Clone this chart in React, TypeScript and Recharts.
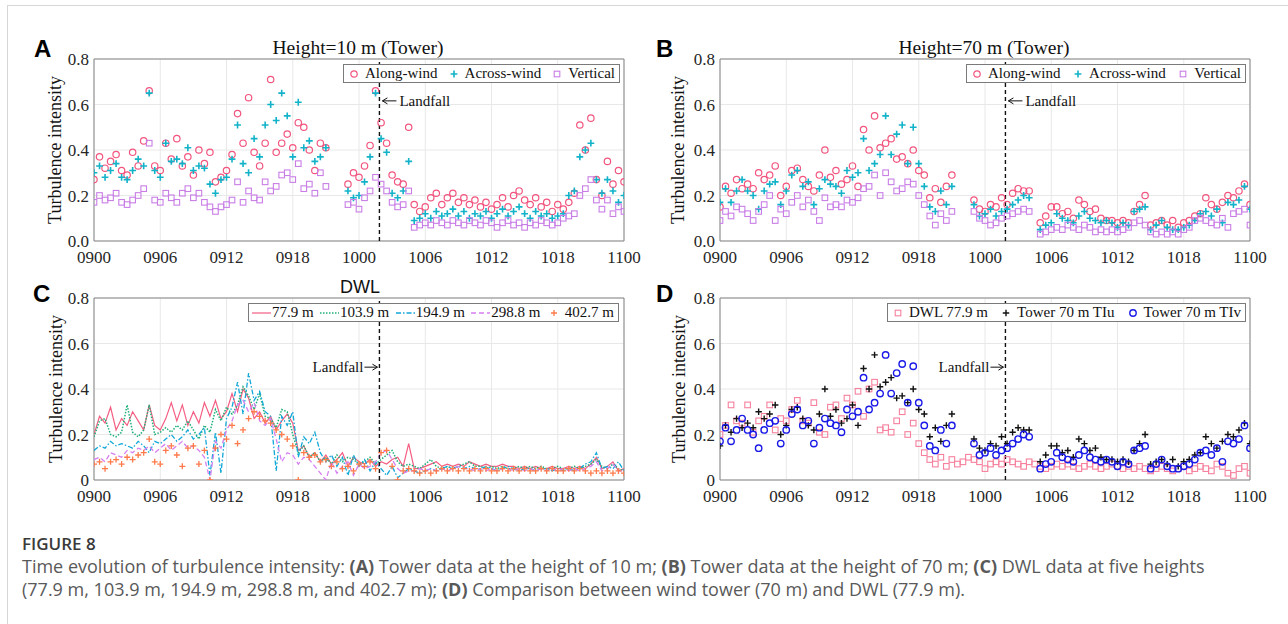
import React from 'react';
import { ComposedChart, Line, XAxis, YAxis, CartesianGrid, ReferenceLine, ReferenceArea } from 'recharts';

// time axis: hours after 09 00:00, sampled every half hour
const HOURS = [
  0, 0.5, 1, 1.5, 2, 2.5, 3, 3.5, 4, 4.5,
  5, 5.5, 6, 6.5, 7, 7.5, 8, 8.5, 9, 9.5,
  10, 10.5, 11, 11.5, 12, 12.5, 13, 13.5, 14, 14.5,
  15, 15.5, 16, 16.5, 17, 17.5, 18, 18.5, 19, 19.5,
  20, 20.5, 21, 21.5, 22, 22.5, 23, 23.5, 24, 24.5,
  25, 25.5, 26, 26.5, 27, 27.5, 28, 28.5, 29, 29.5,
  30, 30.5, 31, 31.5, 32, 32.5, 33, 33.5, 34, 34.5,
  35, 35.5, 36, 36.5, 37, 37.5, 38, 38.5, 39, 39.5,
  40, 40.5, 41, 41.5, 42, 42.5, 43, 43.5, 44, 44.5,
  45, 45.5, 46, 46.5, 47, 47.5, 48,
];
const X_TICKS = [0, 6, 12, 18, 24, 30, 36, 42, 48];
const X_LABELS = ['0900', '0906', '0912', '0918', '1000', '1006', '1012', '1018', '1100'];
const Y_TICKS = [0, 0.2, 0.4, 0.6, 0.8];
const LANDFALL = 25.85;

// (A) tower 10 m
const T10_ALONG = [
  0.27, 0.37, 0.32, 0.35, 0.38, 0.31, 0.29, 0.39, 0.33, 0.44,
  0.66, 0.33, 0.31, 0.43, 0.36, 0.45, 0.33, 0.37, 0.29, 0.40,
  0.34, 0.39, 0.26, 0.28, 0.31, 0.38, 0.56, 0.43, 0.63, 0.39,
  0.33, 0.43, 0.71, 0.39, 0.43, 0.47, 0.41, 0.52, 0.50, 0.40,
  0.31, 0.43, 0.41, null, null, null, 0.25, 0.30, 0.28, 0.33,
  0.42, 0.66, 0.52, 0.43, 0.29, 0.26, 0.25, 0.50, 0.16, 0.13,
  0.15, 0.19, 0.21, 0.16, 0.19, 0.21, 0.17, 0.19, 0.16, 0.18,
  0.15, 0.17, 0.14, 0.16, 0.19, 0.15, 0.20, 0.22, 0.18, 0.16,
  0.19, 0.15, 0.17, 0.13, 0.16, 0.14, 0.17, 0.21, 0.51, 0.40,
  0.54, 0.27, 0.20, 0.35, 0.25, 0.31, 0.26,
];
const T10_ACROSS = [
  0.30, 0.33, 0.28, 0.31, 0.34, 0.28, 0.27, 0.31, 0.36, 0.33,
  0.65, 0.31, 0.28, 0.43, 0.35, 0.36, 0.34, 0.41, 0.31, 0.33,
  0.32, 0.25, 0.21, 0.27, 0.28, 0.36, 0.51, 0.34, 0.30, 0.45,
  0.37, 0.51, 0.60, 0.53, 0.65, 0.55, 0.37, 0.61, 0.41, 0.44,
  0.35, 0.37, 0.41, null, null, null, 0.22, 0.19, 0.20, 0.26,
  0.37, 0.65, 0.45, 0.39, 0.21, 0.19, 0.22, 0.35, 0.09, 0.10,
  0.12, 0.10, 0.13, 0.11, 0.12, 0.14, 0.11, 0.13, 0.10, 0.12,
  0.11, 0.13, 0.10, 0.12, 0.14, 0.11, 0.13, 0.15, 0.12, 0.10,
  0.13, 0.11, 0.12, 0.10, 0.11, 0.12, 0.20, 0.22, 0.37, 0.40,
  0.43, 0.27, 0.21, 0.27, 0.22, 0.17, 0.20,
];
const T10_VERT = [
  0.17, 0.20, 0.18, 0.19, 0.21, 0.17, 0.16, 0.18, 0.20, 0.23,
  0.43, 0.18, 0.17, 0.21, 0.19, 0.17, 0.21, 0.23, 0.19, 0.21,
  0.17, 0.15, 0.13, 0.15, 0.16, 0.18, 0.26, 0.17, 0.22, 0.19,
  0.18, 0.26, 0.22, 0.24, 0.29, 0.30, 0.27, 0.34, 0.23, 0.25,
  0.21, 0.30, 0.24, null, null, null, 0.16, 0.17, 0.14, 0.19,
  0.22, 0.28, 0.25, 0.22, 0.17, 0.15, 0.16, 0.22, 0.06, 0.07,
  0.08, 0.07, 0.09, 0.08, 0.07, 0.09, 0.08, 0.07, 0.09, 0.08,
  0.07, 0.09, 0.08, 0.06, 0.08, 0.09, 0.07, 0.08, 0.06, 0.08,
  0.07, 0.09, 0.08, 0.07, 0.08, 0.10, 0.11, 0.12, 0.20, 0.23,
  0.27, 0.18, 0.14, 0.18, 0.12, 0.15, 0.13,
];

// (B) tower 70 m
const T70_ALONG = [
  0.15, 0.24, 0.21, 0.27, 0.23, 0.25, 0.23, 0.30, 0.27, 0.29,
  0.33, 0.20, 0.24, 0.31, 0.32, 0.27, 0.24, 0.22, 0.29, 0.40,
  0.28, 0.31, 0.25, 0.27, 0.33, 0.24, 0.49, 0.40, 0.55, 0.41,
  0.43, 0.45, 0.36, 0.37, 0.34, 0.40, 0.31, 0.29, 0.19, 0.23,
  0.17, 0.24, 0.29, null, null, null, 0.18, 0.14, 0.13, 0.16,
  0.15, 0.19, 0.16, 0.21, 0.23, 0.22, 0.22, null, 0.08, 0.11,
  0.15, 0.15, 0.12, 0.13, 0.10, 0.18, 0.16, 0.13, 0.14, 0.10,
  0.09, 0.09, 0.08, 0.09, 0.08, 0.13, 0.16, 0.20, 0.07, 0.08,
  0.09, 0.07, 0.09, 0.06, 0.08, 0.09, 0.11, 0.12, 0.19, 0.16,
  0.14, 0.17, 0.20, 0.19, 0.22, 0.25, 0.16,
];
const T70_ACROSS = [
  0.17, 0.23, 0.17, 0.22, 0.27, 0.22, 0.20, 0.14, 0.22, 0.25,
  0.26, 0.16, 0.22, 0.29, 0.31, 0.24, 0.26, 0.16, 0.23, 0.27,
  0.25, 0.24, 0.21, 0.31, 0.28, 0.30, 0.45, 0.31, 0.34, 0.38,
  0.55, 0.38, 0.47, 0.51, 0.34, 0.50, 0.34, 0.24, 0.15, 0.13,
  0.22, 0.16, 0.24, null, null, null, 0.16, 0.11, 0.12, 0.14,
  0.11, 0.13, 0.14, 0.16, 0.18, 0.20, 0.19, null, 0.05, 0.07,
  0.08, 0.12, 0.10, 0.09, 0.08, 0.11, 0.13, 0.10, 0.09, 0.08,
  0.09, 0.08, 0.06, 0.08, 0.07, 0.13, 0.14, 0.15, 0.05, 0.07,
  0.09, 0.06, 0.05, 0.05, 0.06, 0.07, 0.09, 0.12, 0.13, 0.11,
  0.14, 0.08, 0.17, 0.16, 0.18, 0.24, 0.14,
];
const T70_VERT = [
  0.09, 0.13, 0.11, 0.15, 0.14, 0.12, 0.09, 0.13, 0.16, 0.20,
  0.09, 0.14, 0.12, 0.17, 0.20, 0.15, 0.18, 0.13, 0.09, 0.19,
  0.15, 0.16, 0.15, 0.18, 0.17, 0.19, 0.23, 0.24, 0.29, 0.20,
  0.30, 0.26, 0.22, 0.23, 0.26, 0.25, 0.20, 0.16, 0.11, 0.07,
  0.12, 0.09, 0.13, null, null, null, 0.13, 0.10, 0.09, 0.07,
  0.08, 0.10, 0.11, 0.12, 0.13, 0.14, 0.13, null, 0.03, 0.04,
  0.05, 0.06, 0.05, 0.07, 0.06, 0.05, 0.07, 0.06, 0.04, 0.05,
  0.04, 0.05, 0.04, 0.05, 0.06, 0.08, 0.09, 0.07, 0.04, 0.03,
  0.04, 0.03, 0.04, 0.03, 0.05, 0.06, 0.09, 0.10, 0.09, 0.08,
  0.07, 0.10, 0.06, 0.12, 0.13, 0.14, 0.07,
];

// (C) DWL, five heights
const DWL_779 = [
  0.20, 0.28, 0.25, 0.32, 0.22, 0.27, 0.24, 0.30, 0.26, 0.22,
  0.33, 0.24, 0.22, 0.27, 0.34, 0.26, 0.33, 0.24, 0.30, 0.25,
  0.34, 0.28, 0.35, 0.27, 0.30, 0.38, 0.30, 0.40, 0.36, 0.27,
  0.30, 0.25, 0.28, 0.22, 0.26, 0.29, 0.25, 0.13, 0.15, 0.10,
  0.12, 0.08, 0.11, 0.07, 0.09, 0.12, 0.06, 0.10, 0.08, 0.07,
  0.09, 0.06, 0.08, 0.07, 0.09, 0.10, 0.06, 0.16, 0.05, 0.05,
  0.06, 0.07, 0.08, 0.06, 0.07, 0.06, 0.07, 0.06, 0.08, 0.07,
  0.06, 0.07, 0.06, 0.06, 0.07, 0.06, 0.06, 0.05, 0.06, 0.05,
  0.06, 0.05, 0.05, 0.06, 0.05, 0.05, 0.06, 0.05, 0.06, 0.05,
  0.07, 0.10, 0.05, 0.06, 0.08, 0.04, 0.05,
];
const DWL_1039 = [
  0.19, 0.26, 0.27, 0.20, 0.19, 0.21, 0.33, 0.21, 0.19, 0.22,
  0.33, 0.20, 0.21, 0.23, 0.21, 0.24, 0.22, 0.26, 0.22, 0.18,
  0.24, 0.21, 0.31, 0.26, 0.32, 0.29, 0.33, 0.41, 0.37, 0.31,
  0.38, 0.28, 0.27, 0.23, 0.31, 0.30, 0.20, 0.12, 0.15, 0.10,
  0.12, 0.08, 0.10, 0.07, 0.11, 0.08, 0.10, 0.09, 0.07, 0.08,
  0.10, 0.07, 0.09, 0.11, 0.13, 0.08, 0.06, 0.07, 0.06, 0.05,
  0.07, 0.09, 0.06, 0.05, 0.06, 0.05, 0.06, 0.07, 0.08, 0.06,
  0.06, 0.05, 0.06, 0.05, 0.06, 0.05, 0.05, 0.06, 0.05, 0.06,
  0.05, 0.06, 0.05, 0.05, 0.06, 0.05, 0.05, 0.06, 0.05, 0.06,
  0.07, 0.09, 0.06, 0.05, 0.07, 0.05, 0.04,
];
const DWL_1949 = [
  0.13, 0.15, 0.14, 0.17, 0.15, 0.16, 0.15, 0.14, 0.17, 0.15,
  0.12, 0.17, 0.16, 0.18, 0.20, 0.17, 0.19, 0.22, 0.18, 0.20,
  0.23, 0.02, 0.21, 0.03, 0.27, 0.32, 0.43, 0.29, 0.47, 0.35,
  0.39, 0.30, 0.28, 0.04, 0.28, 0.24, 0.30, 0.10, 0.19, 0.16,
  0.21, 0.12, 0.08, 0.11, 0.06, 0.10, 0.02, 0.11, 0.06, 0.09,
  0.04, 0.08, 0.05, 0.02, 0.06, 0.01, 0.03, 0.05, 0.04, 0.03,
  0.04, 0.05, 0.04, 0.05, 0.06, 0.05, 0.06, 0.05, 0.06, 0.05,
  0.05, 0.06, 0.05, 0.04, 0.05, 0.06, 0.05, 0.04, 0.05, 0.05,
  0.04, 0.05, 0.05, 0.04, 0.05, 0.04, 0.05, 0.04, 0.05, 0.07,
  0.08, 0.12, 0.05, 0.06, 0.05, 0.08, 0.04,
];
const DWL_2988 = [
  0.09, 0.10, 0.08, 0.12, 0.11, 0.10, 0.13, 0.12, 0.14, 0.13,
  0.15, 0.12, 0.14, 0.16, 0.13, 0.15, 0.17, 0.14, 0.15, 0.13,
  0.10, 0.00, 0.17, 0.14, 0.22, 0.26, 0.33, 0.35, 0.30, 0.34,
  0.26, 0.24, 0.27, 0.18, 0.08, 0.12, 0.11, 0.07, 0.10, 0.09,
  0.06, 0.03, 0.00, 0.08, 0.03, 0.06, 0.08, 0.02, 0.07, 0.05,
  0.06, 0.08, 0.12, 0.13, 0.09, 0.05, 0.03, 0.04, 0.04, 0.05,
  0.04, 0.05, 0.04, 0.05, 0.04, 0.05, 0.06, 0.05, 0.05, 0.04,
  0.05, 0.04, 0.05, 0.04, 0.05, 0.05, 0.04, 0.05, 0.04, 0.05,
  0.04, 0.05, 0.04, 0.05, 0.04, 0.05, 0.04, 0.05, 0.04, 0.05,
  0.06, 0.08, 0.04, 0.05, 0.07, 0.04, 0.04,
];
const DWL_4027 = [
  0.07, 0.08, 0.05, 0.08, 0.09, 0.07, 0.10, 0.09, 0.11, 0.12,
  0.18, 0.08, 0.07, 0.13, 0.15, 0.11, 0.06, 0.14, 0.15, 0.07,
  0.13, 0.00, 0.14, 0.20, 0.18, 0.24, 0.16, 0.22, 0.27, 0.30,
  0.28, 0.26, 0.25, 0.22, 0.20, 0.18, 0.15, 0.00, 0.12, 0.10,
  0.11, 0.08, 0.09, 0.06, 0.08, 0.05, 0.06, 0.04, 0.07, 0.06,
  0.08, 0.05, 0.12, 0.13, 0.06, 0.00, 0.04, 0.05, 0.04, 0.03,
  0.04, 0.03, 0.04, 0.05, 0.04, 0.05, 0.04, 0.05, 0.04, 0.05,
  0.04, 0.05, 0.04, 0.04, 0.05, 0.04, 0.05, 0.04, 0.05, 0.04,
  0.04, 0.05, 0.04, 0.05, 0.04, 0.04, 0.05, 0.04, 0.05, 0.04,
  0.03, 0.04, 0.03, 0.04, 0.03, 0.04, 0.03,
];

// (D) DWL 77.9 m points vs tower 70 m (TIu = along, TIv = across from panel B)
const DWL_779_PTS = [
  0.20, 0.24, 0.33, 0.26, 0.25, 0.33, 0.21, 0.26, 0.28, 0.33,
  0.22, 0.27, 0.26, 0.31, 0.35, 0.26, 0.25, 0.34, 0.21, 0.20,
  0.32, 0.33, 0.27, 0.36, 0.33, 0.39, 0.28, 0.40, 0.43, 0.22,
  0.23, 0.21, 0.26, 0.30, 0.20, 0.25, 0.16, 0.12, 0.09, 0.07,
  0.10, 0.06, 0.09, 0.07, 0.08, 0.10, 0.09, 0.08, 0.05, 0.07,
  0.08, 0.07, 0.09, 0.08, 0.07, 0.06, 0.08, 0.07, 0.06, 0.05,
  0.06, 0.07, 0.06, 0.07, 0.06, 0.05, 0.06, 0.07, 0.06, 0.05,
  0.06, 0.07, 0.06, 0.05, 0.06, 0.05, 0.06, 0.05, 0.04, 0.05,
  0.06, 0.05, 0.04, 0.05, 0.06, 0.04, 0.05, 0.06, 0.05, 0.04,
  0.07, 0.06, 0.03, 0.02, 0.05, 0.06, 0.03,
];

const SERIF = '"Liberation Serif", "Times New Roman", serif';
const SANS = '"Liberation Sans", Arial, sans-serif';

const PINK = '#f2557f';
const CYAN = '#12b3c9';
const VIOLET = '#c97ee6';

type Kind = 'circle' | 'plus' | 'square';
type Series = { key: string; name: string; values: (number | null)[]; color: string; kind?: Kind; dash?: string; size?: number; width?: number };

const buildRows = (series: Series[]) =>
  HOURS.map((t, i) => {
    const row: Record<string, number | null> = { t };
    series.forEach((s) => { row[s.key] = s.values[i]; });
    return row;
  });

function Mark({ kind, cx, cy, color, size = 3.2, width = 1.2 }: { kind: Kind; cx: number; cy: number; color: string; size?: number; width?: number }) {
  if (kind === 'circle') return <circle cx={cx} cy={cy} r={size} fill="none" stroke={color} strokeWidth={width} />;
  if (kind === 'square') return <rect x={cx - size} y={cy - size} width={size * 2} height={size * 2} fill="none" stroke={color} strokeWidth={width} />;
  return <path d={`M${cx - size},${cy}H${cx + size}M${cx},${cy - size}V${cy + size}`} stroke={color} strokeWidth={width} />;
}

const makeDot = (s: Series) => (p: any) => {
  const key = `${s.key}-${p.index}`;
  if (p.cx == null || p.cy == null || Number.isNaN(p.cx) || Number.isNaN(p.cy)) return <g key={key} />;
  return (
    <g key={key}>
      <Mark kind={s.kind as Kind} cx={p.cx} cy={p.cy} color={s.color} size={s.size} width={s.width} />
    </g>
  );
};

function LandfallTag({ viewBox, side, frac }: any) {
  if (!viewBox) return null;
  const x = viewBox.x;
  const y = viewBox.y + viewBox.height * frac;
  if (side === 'right') {
    return (
      <g>
        <path d={`M${x + 3},${y}H${x + 17}`} stroke="#111" strokeWidth={1} />
        <path d={`M${x + 8},${y - 3}L${x + 3},${y}L${x + 8},${y + 3}`} fill="none" stroke="#111" strokeWidth={1} />
        <text x={x + 20} y={y + 5} fontFamily={SERIF} fontSize={15} fill="#111">Landfall</text>
      </g>
    );
  }
  return (
    <g>
      <path d={`M${x - 15},${y}H${x - 2}`} stroke="#111" strokeWidth={1} />
      <path d={`M${x - 7},${y - 3}L${x - 2},${y}L${x - 7},${y + 3}`} fill="none" stroke="#111" strokeWidth={1} />
      <text x={x - 16} y={y + 5} textAnchor="end" fontFamily={SERIF} fontSize={15} fill="#111">Landfall</text>
    </g>
  );
}

function Panel({ x, y, series, zeroLabel, side, frac }: { x: number; y: number; series: Series[]; zeroLabel: string; side: string; frac: number }) {
  const rows = buildRows(series);
  return (
    <div style={{ position: 'absolute', left: x - 60, top: y - 10 }}>
      <ComposedChart width={630} height={224} data={rows} margin={{ top: 10, right: 40, left: 0, bottom: 0 }}>
        <CartesianGrid stroke="#e8e8e8" />
        <XAxis
          type="number"
          dataKey="t"
          domain={[0, 48]}
          ticks={X_TICKS}
          interval={0}
          allowDataOverflow
          tickFormatter={(v: number) => X_LABELS[X_TICKS.indexOf(v)]}
          axisLine={false}
          tickLine={false}
          height={32}
          tickSize={7}
          tickMargin={3}
          tick={{ fontFamily: SERIF, fontSize: 17, fill: '#262626' }}
        />
        <YAxis
          type="number"
          domain={[0, 0.8]}
          ticks={Y_TICKS}
          interval={0}
          allowDataOverflow
          tickFormatter={(v: number) => (v === 0 ? zeroLabel : v.toFixed(1))}
          axisLine={false}
          tickLine={false}
          tickSize={3}
          tickMargin={2}
          width={60}
          tick={{ fontFamily: SERIF, fontSize: 17, fill: '#262626' }}
        />
        {series.map((s) =>
          s.kind ? (
            <Line key={s.key} dataKey={s.key} stroke="none" dot={makeDot(s)} activeDot={false} isAnimationActive={false} />
          ) : (
            <Line
              key={s.key}
              dataKey={s.key}
              stroke={s.color}
              strokeWidth={s.width ?? 1.2}
              strokeDasharray={s.dash}
              dot={false}
              activeDot={false}
              isAnimationActive={false}
            />
          )
        )}
        <ReferenceLine x={LANDFALL} stroke="#111" strokeWidth={1.4} strokeDasharray="4 3" label={<LandfallTag side={side} frac={frac} />} />
        <ReferenceArea x1={0} x2={48} y1={0} y2={0.8} fill="none" fillOpacity={0} stroke="#858585" strokeWidth={1} ifOverflow="visible" />
      </ComposedChart>
    </div>
  );
}

function LegendBox({ left, top, width, items }: { left: number; top: number; width: number; items: Series[] }) {
  return (
    <div
      style={{
        position: 'absolute', left, top, width, height: 19, boxSizing: 'border-box', display: 'flex', alignItems: 'center',
        justifyContent: 'space-between', border: '1px solid #7a7a7a', background: '#fff', padding: '0 4px 0 3px',
        fontFamily: SERIF, fontSize: 15, color: '#111', whiteSpace: 'nowrap',
      }}
    >
      {items.map((s) => (
        <div key={s.key} style={{ display: 'flex', alignItems: 'center' }}>
          {s.kind ? (
            <svg width={14} height={14} style={{ marginRight: 4 }}>
              <Mark kind={s.kind} cx={7} cy={7} color={s.color} size={s.size} width={s.width} />
            </svg>
          ) : (
            <svg width={19} height={14} style={{ marginRight: 1 }}>
              <path d="M0,7H19" stroke={s.color} strokeWidth={s.width ?? 1.2} strokeDasharray={s.dash} />
            </svg>
          )}
          <span>{s.name}</span>
        </div>
      ))}
    </div>
  );
}

const seriesA: Series[] = [
  { key: 'al', name: 'Along-wind', values: T10_ALONG, color: PINK, kind: 'circle', size: 3.2, width: 1.2 },
  { key: 'ac', name: 'Across-wind', values: T10_ACROSS, color: CYAN, kind: 'plus', size: 3.4, width: 1.6 },
  { key: 've', name: 'Vertical', values: T10_VERT, color: VIOLET, kind: 'square', size: 2.8, width: 1.1 },
];
const seriesB: Series[] = [
  { key: 'al', name: 'Along-wind', values: T70_ALONG, color: PINK, kind: 'circle', size: 3.2, width: 1.2 },
  { key: 'ac', name: 'Across-wind', values: T70_ACROSS, color: CYAN, kind: 'plus', size: 3.4, width: 1.6 },
  { key: 've', name: 'Vertical', values: T70_VERT, color: VIOLET, kind: 'square', size: 2.8, width: 1.1 },
];
const seriesC: Series[] = [
  { key: 'h1', name: '77.9 m', values: DWL_779, color: '#f45d82', width: 1.2 },
  { key: 'h2', name: '103.9 m', values: DWL_1039, color: '#1fb07a', dash: '1.5 1.5', width: 1.5 },
  { key: 'h3', name: '194.9 m', values: DWL_1949, color: '#12a8d8', dash: '5 2 1.5 2', width: 1.3 },
  { key: 'h4', name: '298.8 m', values: DWL_2988, color: '#d57ff0', dash: '5 3', width: 1.3 },
  { key: 'h5', name: '402.7 m', values: DWL_4027, color: '#ff7a4a', kind: 'plus', size: 3, width: 1.3 },
];
const seriesD: Series[] = [
  { key: 'dw', name: 'DWL 77.9 m', values: DWL_779_PTS, color: '#f6809d', kind: 'square', size: 2.8, width: 1.1 },
  { key: 'tu', name: 'Tower 70 m TIu', values: T70_ALONG, color: '#111111', kind: 'plus', size: 3.2, width: 1.4 },
  { key: 'tv', name: 'Tower 70 m TIv', values: T70_ACROSS, color: '#1a1ae8', kind: 'circle', size: 3.2, width: 1.4 },
];

export default function App() {
  return (
    <div style={{ position: 'absolute', left: 0, top: 0, width: 1288, height: 624, overflow: 'hidden', background: '#fff' }}>
      <div style={{ position: 'absolute', left: 7, top: 5, width: 1300, height: 700, border: '1px solid #d6d6d6' }} />

      <Panel x={94} y={59} series={seriesA} zeroLabel="0.0" side="right" frac={0.23} />
      <Panel x={720} y={59} series={seriesB} zeroLabel="0.0" side="right" frac={0.23} />
      <Panel x={94} y={298} series={seriesC} zeroLabel="0" side="left" frac={0.38} />
      <Panel x={720} y={298} series={seriesD} zeroLabel="0" side="left" frac={0.38} />

      <svg width={1288} height={624} style={{ position: 'absolute', left: 0, top: 0, pointerEvents: 'none' }}>
        <g fontFamily={SANS} fontWeight="bold" fontSize={24} fill="#000">
          <text x={34} y={57}>A</text>
          <text x={656} y={57}>B</text>
          <text x={33} y={302}>C</text>
          <text x={656} y={302}>D</text>
        </g>
        <g fontFamily={SERIF} fontSize={19.5} fill="#111" textAnchor="middle">
          <text x={358} y={54}>Height=10 m (Tower)</text>
          <text x={984} y={54}>Height=70 m (Tower)</text>
        </g>
        <text x={360} y={293} textAnchor="middle" fontFamily={SANS} fontSize={18} fill="#111">DWL</text>
        <g fontFamily={SERIF} fontSize={18} fill="#111" textAnchor="middle">
          <text transform="translate(61,150) rotate(-90)">Turbulence intensity</text>
          <text transform="translate(684,150) rotate(-90)">Turbulence intensity</text>
          <text transform="translate(62,389) rotate(-90)">Turbulence intensity</text>
          <text transform="translate(685,389) rotate(-90)">Turbulence intensity</text>
        </g>
      </svg>

      <LegendBox left={343} top={64} width={277} items={seriesA} />
      <LegendBox left={966} top={64} width={280} items={seriesB} />
      <LegendBox left={248} top={303} width={371} items={seriesC} />
      <LegendBox left={887} top={303} width={359} items={seriesD} />

      <div style={{ position: 'absolute', left: 22, top: 533, fontFamily: '"Open Sans", sans-serif', color: '#595959', whiteSpace: 'nowrap' }}>
        <div style={{ fontSize: 17, fontWeight: 600, color: '#3a3a3a', lineHeight: '22px' }}>FIGURE 8</div>
        <div style={{ fontSize: 18, lineHeight: '23px', marginTop: 0 }}>
          Time evolution of turbulence intensity: <b>(A)</b> Tower data at the height of 10 m; <b>(B)</b> Tower data at the height of 70 m; <b>(C)</b> DWL data at five heights
          <br />
          (77.9 m, 103.9 m, 194.9 m, 298.8 m, and 402.7 m); <b>(D)</b> Comparison between wind tower (70 m) and DWL (77.9 m).
        </div>
      </div>
    </div>
  );
}
